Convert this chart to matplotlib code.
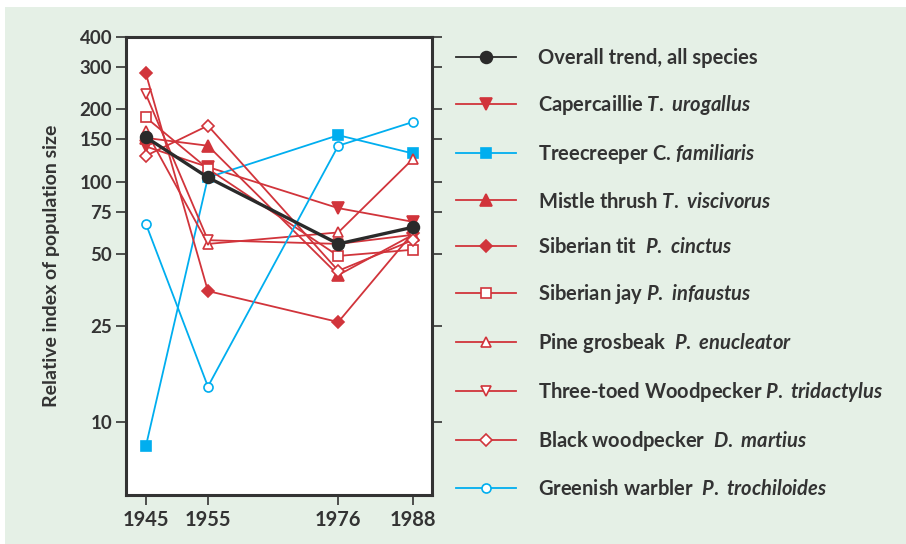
import matplotlib
matplotlib.use("Agg")
import matplotlib.pyplot as plt
from matplotlib.ticker import FixedLocator, NullLocator

plt.rcParams["font.family"] = ["Lato", "DejaVu Sans"]
plt.rcParams["mathtext.fontset"] = "custom"
plt.rcParams["mathtext.it"] = "Lato:italic:bold"
plt.rcParams["mathtext.rm"] = "Lato:bold"

# Data (relative index, log scale)
years = [1945, 1955, 1976, 1988]
overall = [153, 104, 55, 64.5]
capercaillie = [140, 115, 77.5, 68]
treecreeper = [7.9, 104, 156, 131]
mistle_thrush = [152, 141, 40.8, 60]
siberian_tit = [282, 35, 26, 61]
siberian_jay = [185, 113, 49, 52]
pine_grosbeak = [163, 55, 61.4, 124]
three_toed = [231, 57, 55, 60]
black_woodpecker = [128, 171, 42.5, 57]
greenish_warbler = [66.7, 14.0, 141, 177]

yticks = [10, 25, 50, 75, 100, 150, 200, 300, 400]

RED = "#d1343b"
BLUE = "#00aeef"
BLACK = "#2a2a2a"
BG = "#e5f0e6"

fig = plt.figure(figsize=(9.06, 5.44), dpi=100)
fig.patch.set_facecolor("white")
fig.patches.append(plt.Rectangle((5 / 906, 0), 1, 1 - 7 / 544, transform=fig.transFigure,
                                 facecolor=BG, edgecolor="none", zorder=-10))

ax = fig.add_axes([126 / 906, 49 / 544, 306 / 906, 458 / 544])
ax.set_facecolor("white")

# (label, values, color, marker, filled, size)
series = [
    ("Overall trend, all species", overall, BLACK, "o", True, 8.5),
    (r"Capercaillie $\mathit{T.\ urogallus}$", capercaillie, RED, "v", True, 8),
    (r"Treecreeper C. $\mathit{familiaris}$", treecreeper, BLUE, "s", True, 7),
    (r"Mistle thrush $\mathit{T.\ viscivorus}$", mistle_thrush, RED, "^", True, 8),
    (r"Siberian tit  $\mathit{P.\ cinctus}$", siberian_tit, RED, "D", True, 6.5),
    (r"Siberian jay $\mathit{P.\ infaustus}$", siberian_jay, RED, "s", False, 6.5),
    (r"Pine grosbeak  $\mathit{P.\ enucleator}$", pine_grosbeak, RED, "^", False, 7.5),
    (r"Three-toed Woodpecker $\mathit{P.\ tridactylus}$", three_toed, RED, "v", False, 7.5),
    (r"Black woodpecker  $\mathit{D.\ martius}$", black_woodpecker, RED, "D", False, 6.5),
    (r"Greenish warbler  $\mathit{P.\ trochiloides}$", greenish_warbler, BLUE, "o", False, 6.5),
]

handles = []
for label, vals, col, mk, filled, ms in series:
    lw = 2.4 if col == BLACK else 1.3
    z = 5 if col == BLACK else 3
    ln, = ax.plot(years, vals, color=col, lw=lw, marker=mk, ms=ms,
                  mfc=col if filled else "white", mec=col, mew=1.2,
                  label=label, zorder=z)
    handles.append(ln)

ax.set_yscale("log")
ax.set_ylim(4.95, 400)
ax.set_xlim(1941.8, 1991.1)
ax.yaxis.set_major_locator(FixedLocator(yticks))
ax.yaxis.set_minor_locator(NullLocator())
ax.set_yticklabels([str(t) for t in yticks])
ax.set_xticks(years)
ax.tick_params(axis="both", direction="out", length=7, width=1.2, color="#333333",
               labelsize=13.5, labelcolor="#333333", pad=3)
ax.tick_params(axis="y", right=True, labelright=False)
for lab in ax.get_xticklabels() + ax.get_yticklabels():
    lab.set_fontweight("bold")
ax.tick_params(axis="x", labelsize=14.5, pad=4)
for s in ax.spines.values():
    s.set_linewidth(2.2)
    s.set_color("#333333")
ax.set_ylabel("Relative index of population size", fontsize=14, fontweight="bold",
              color="#333333", labelpad=14)

leg = fig.legend(handles=handles, loc="upper left", bbox_to_anchor=(456 / 906, 1 - 48 / 544),
                 frameon=False, fontsize=14.5, handlelength=3.0, handletextpad=1.05,
                 labelspacing=1.25, borderaxespad=0, borderpad=0)
for t in leg.get_texts():
    t.set_color("#333333")
    t.set_fontweight("bold")
for lh in leg.get_lines():
    lh.set_linewidth(1.3)

fig.savefig("out.png", dpi=100, facecolor=fig.get_facecolor())
